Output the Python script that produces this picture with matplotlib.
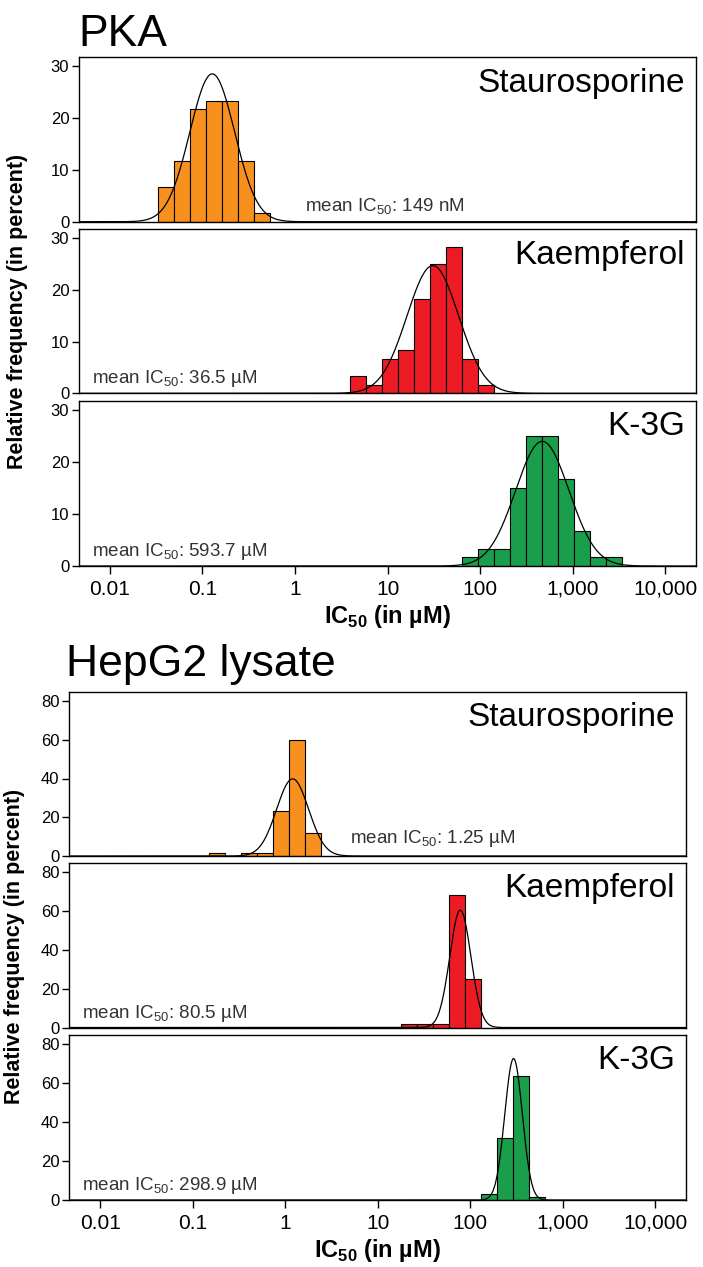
import numpy as np
import matplotlib
matplotlib.use("Agg")
import matplotlib.pyplot as plt
from matplotlib.ticker import FixedLocator, FixedFormatter, NullLocator

plt.rcParams['font.family'] = ['Liberation Sans', 'DejaVu Sans']
plt.rcParams['mathtext.fontset'] = 'custom'
plt.rcParams['mathtext.rm'] = 'Liberation Sans'
plt.rcParams['mathtext.bf'] = 'Liberation Sans:bold'

# --- data (log10 of IC50 in uM for bin edges / fit centres, heights in percent)
BIN = 0.1726
tick_vals = [0.01, 0.1, 1, 10, 100, 1000, 10000]
tick_labels = ['0.01', '0.1', '1', '10', '100', '1,000', '10,000']
compounds = ['Staurosporine', 'Kaempferol', 'K-3G']
colors = ['#F7901E', '#ED1C24', '#1B9E4B']

pka_start = [-1.481, 0.595, 1.805]
pka_heights = [
    [6.7, 11.7, 21.7, 23.3, 23.3, 11.7, 1.7],
    [3.3, 1.7, 6.7, 8.3, 18.3, 25.0, 28.3, 6.7, 1.7],
    [1.7, 3.3, 3.3, 15.0, 25.0, 25.0, 16.7, 6.7, 1.7, 1.7],
]
pka_fit_mu = [-0.894, 1.488, 2.670]
pka_fit_sd = [0.242, 0.279, 0.288]
pka_means = ['149 nM', '36.5 µM', '593.7 µM']

hep_start = [-0.819, 1.252, 2.119]
hep_heights = [
    [1.7, 0, 1.7, 1.7, 23.3, 60.0, 11.7],
    [1.7, 1.7, 1.7, 68.3, 25.0],
    [3.3, 31.7, 63.3, 1.7],
]
hep_fit_mu = [0.080, 1.892, 2.467]
hep_fit_sd = [0.173, 0.114, 0.095]
hep_means = ['1.25 µM', '80.5 µM', '298.9 µM']

W, H = 703, 1267
fig = plt.figure(figsize=(W / 100, H / 100), dpi=100)


def add_ax(left, right, top, bottom):
    return fig.add_axes([left / W, 1 - bottom / H, (right - left) / W, (bottom - top) / H])


def draw_panel(ax, start, heights, color, mu, sd, ylim, yticks, name, mean_txt, mean_pos, bottom_row):
    edges = start + BIN * np.arange(len(heights))
    lefts = 10 ** edges
    widths = 10 ** (edges + BIN) - lefts
    h = np.array(heights)
    keep = h > 0
    ax.bar(lefts[keep], h[keep], width=widths[keep], align='edge', color=color,
           edgecolor='black', linewidth=0.8, zorder=2)
    xs = np.logspace(-2.4, 4.4, 800)
    amp = 100 * BIN / (sd * np.sqrt(2 * np.pi))
    ax.plot(xs, amp * np.exp(-0.5 * ((np.log10(xs) - mu) / sd) ** 2), color='black', lw=0.9, zorder=3)
    ax.set_xscale('log')
    ax.set_xlim(10 ** -2.333, 10 ** 4.33)
    ax.set_ylim(*ylim)
    ax.set_yticks(yticks)
    ax.tick_params(axis='y', labelsize=12, length=5, width=1, pad=2)
    ax.xaxis.set_minor_locator(NullLocator())
    if bottom_row:
        ax.xaxis.set_major_locator(FixedLocator(tick_vals))
        ax.xaxis.set_major_formatter(FixedFormatter(tick_labels))
        ax.tick_params(axis='x', labelsize=15, length=6, width=1, pad=4)
    else:
        ax.xaxis.set_major_locator(NullLocator())
    for s in ax.spines.values():
        s.set_linewidth(1.0)
    ax.text(0.982, 0.79, name, transform=ax.transAxes, ha='right', va='baseline', fontsize=24)
    ax.text(mean_pos[0], mean_pos[1], 'mean IC$_{50}$: ' + mean_txt, transform=ax.transAxes,
            ha='left', va='baseline', fontsize=13.5, color='#333333')


# PKA group
pka_rows = [(57, 221.7), (229.3, 393.3), (400.7, 566)]
pka_mean_pos = [(0.366, 0.06), (0.021, 0.06), (0.021, 0.06)]
for i in range(3):
    ax = add_ax(79, 696, *pka_rows[i])
    draw_panel(ax, pka_start[i], pka_heights[i], colors[i], pka_fit_mu[i], pka_fit_sd[i],
               (0, 31.7), [0, 10, 20, 30], compounds[i], pka_means[i], pka_mean_pos[i], i == 2)
    if i == 2:
        ax.set_xlabel(r'IC$_{\mathbf{50}}$ (in µM)', fontsize=17, fontweight='bold', labelpad=3)

# HepG2 group
hep_rows = [(691.7, 856), (862.7, 1027.5), (1034.5, 1200)]
hep_mean_pos = [(0.455, 0.08), (0.021, 0.06), (0.021, 0.06)]
for i in range(3):
    ax = add_ax(69.3, 686, *hep_rows[i])
    draw_panel(ax, hep_start[i], hep_heights[i], colors[i], hep_fit_mu[i], hep_fit_sd[i],
               (0, 84.8), [0, 20, 40, 60, 80], compounds[i], hep_means[i], hep_mean_pos[i], i == 2)
    if i == 2:
        ax.set_xlabel(r'IC$_{\mathbf{50}}$ (in µM)', fontsize=17, fontweight='bold', labelpad=3)

fig.text(78 / W, 1 - 46 / H, 'PKA', fontsize=32, va='baseline', ha='left')
fig.text(66 / W, 1 - 676 / H, 'HepG2 lysate', fontsize=32, va='baseline', ha='left')
fig.text(18 / W, 1 - 311.5 / H, 'Relative frequency (in percent)', rotation=90, fontsize=15.5,
         fontweight='bold', ha='center', va='center')
fig.text(15 / W, 1 - 946 / H, 'Relative frequency (in percent)', rotation=90, fontsize=15.5,
         fontweight='bold', ha='center', va='center')

fig.savefig('out.png', dpi=100)
